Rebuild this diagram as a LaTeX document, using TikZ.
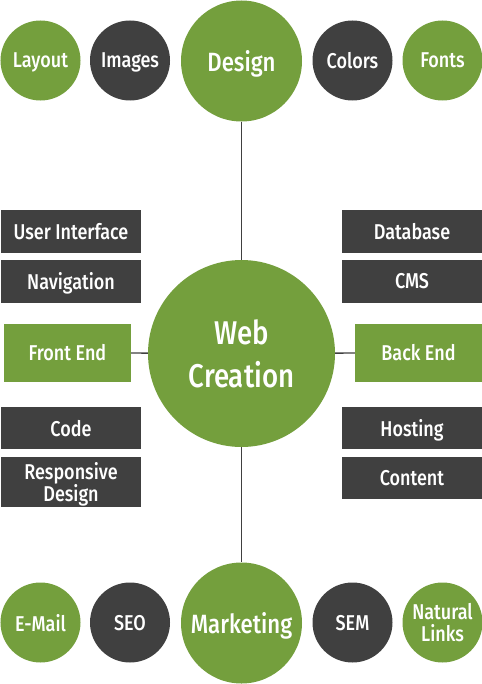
\documentclass[tikz,border=0pt]{standalone}
\usepackage{fontspec}
\setmainfont{Fira Sans}[UprightFont=* Medium, FakeStretch=0.84]
\definecolor{leaf}{RGB}{116,159,61}
\definecolor{coal}{RGB}{64,64,64}
\begin{document}
\begin{tikzpicture}[x=1bp,y=-1bp,
  every node/.style={text=white, inner sep=0pt, align=center, text depth=0pt},
  bubble/.style={circle, minimum size=80bp, font=\fontsize{21.5}{22}\selectfont},
  gbub/.style={bubble, fill=leaf},
  dbub/.style={bubble, fill=coal},
  hub/.style={circle, fill=leaf, minimum size=121bp, font=\fontsize{26.5}{28}\selectfont},
  core/.style={circle, fill=leaf, minimum size=187bp, font=\fontsize{33}{43}\selectfont},
  tag/.style={rectangle, fill=coal, minimum width=140bp, minimum height=42.7bp, font=\fontsize{21.5}{23}\selectfont},
  gtag/.style={rectangle, fill=leaf, minimum width=127bp, minimum height=57.7bp, font=\fontsize{21.5}{23}\selectfont},
  link/.style={draw=coal, line width=1.3bp}]
\useasboundingbox (0,0) rectangle (482,684);
% top row
\node[gbub] (layout) at (40.5,60.5) {Layout};
\node[dbub] (images) at (130,60.5) {Images};
\node[hub]  (design) at (241.5,61) {Design};
\node[dbub] (colors) at (352.5,60.5) {Colors};
\node[gbub] (fonts)  at (442.5,60.5) {Fonts};
% center
\node[core] (web) at (241.5,353.5) {Web\\Creation};
% bottom row
\node[gbub] (email) at (40.5,622.5) {E-Mail};
\node[dbub] (seo)   at (130,622.5) {SEO};
\node[hub]  (mkt)   at (241.5,623) {Marketing};
\node[dbub] (sem)   at (352.5,622.5) {SEM};
\node[gbub] (links) at (442.5,622.5) {Natural\\Links};
% left boxes
\node[tag] (ui)   at (71,231.3) {User Interface};
\node[tag] (nav)  at (71,281.3) {Navigation};
\node[gtag] (front) at (67.5,352.8) {Front End};
\node[tag] (code) at (71,428) {Code};
\node[tag, minimum height=50bp, font=\fontsize{21.5}{22.5}\selectfont] (resp) at (71,481.7) {Responsive\\Design};
% right boxes
\node[tag] (db)    at (412,231.3) {Database};
\node[tag] (cms)   at (412,281.3) {CMS};
\node[gtag] (back) at (418.5,352.8) {Back End};
\node[tag] (host)  at (412,428) {Hosting};
\node[tag] (cont)  at (412,478) {Content};
% connectors
\draw[link] (design) -- (web);
\draw[link] (web) -- (mkt);
\draw[link] (front) -- (web);
\draw[link] (web) -- (back);
\end{tikzpicture}
\end{document}
